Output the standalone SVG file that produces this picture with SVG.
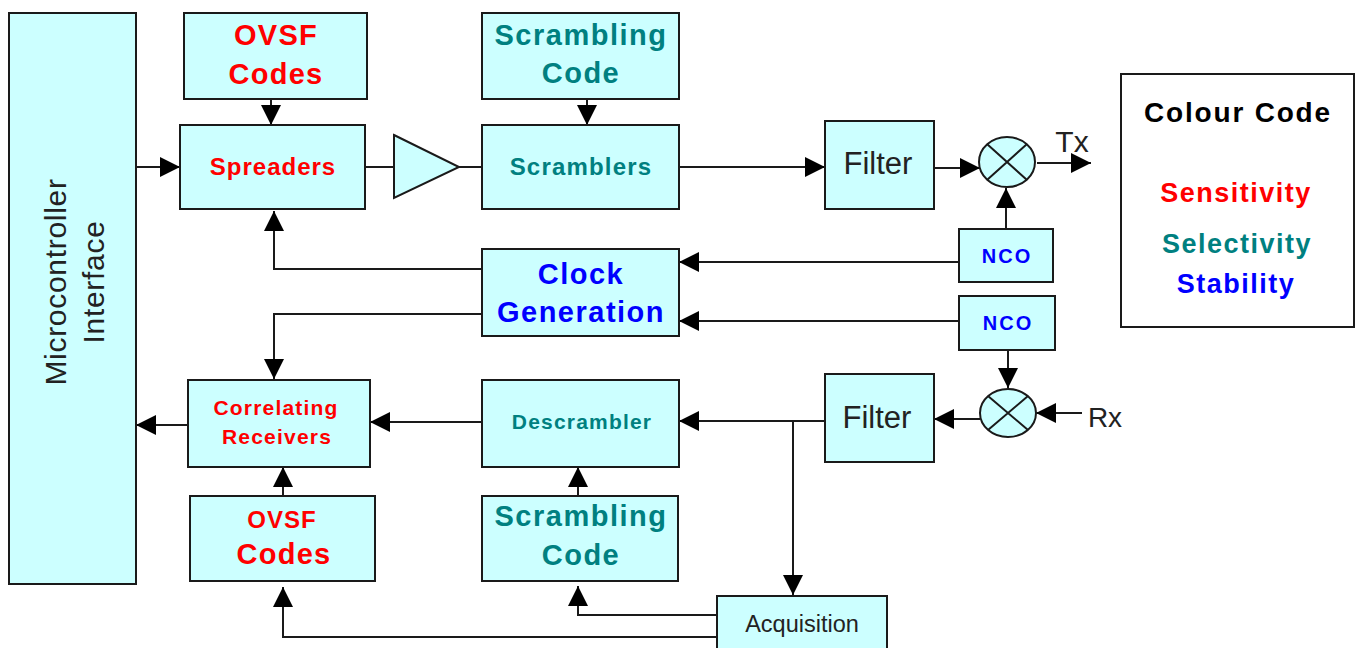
<svg xmlns="http://www.w3.org/2000/svg" width="1359" height="648" viewBox="0 0 1359 648">
  <style>
    .box { fill: #ccffff; stroke: #1a1a1a; stroke-width: 2; }
    .wire { fill: none; stroke: #1a1a1a; stroke-width: 2; }
    .t { font-family: "Liberation Sans", Arial, sans-serif; text-anchor: middle; }
    .b { font-weight: bold; }
    .red { fill: #ff0000; }
    .teal { fill: #008080; }
    .blue { fill: #0000ff; }
    .dark { fill: #222222; }
  </style>
  <defs>
    <marker id="arrow" markerUnits="userSpaceOnUse" markerWidth="20" markerHeight="20" refX="20" refY="10" orient="auto">
      <path d="M0,0 L20,10 L0,20 z" fill="#000"/>
    </marker>
  </defs>

  <rect width="1359" height="648" fill="#ffffff"/>

  <!-- connectors -->
  <g id="connectors" class="wire">
    <line x1="136" y1="167" x2="180" y2="167" marker-end="url(#arrow)"/>
    <line x1="271" y1="99" x2="271" y2="125" marker-end="url(#arrow)"/>
    <line x1="365" y1="167" x2="394" y2="167"/>
    <line x1="459" y1="167" x2="482" y2="167"/>
    <line x1="587" y1="99" x2="587" y2="125" marker-end="url(#arrow)"/>
    <line x1="679" y1="167" x2="825" y2="167" marker-end="url(#arrow)"/>
    <line x1="934" y1="168" x2="980" y2="168" marker-end="url(#arrow)"/>
    <line x1="1037" y1="163" x2="1091" y2="163" marker-end="url(#arrow)"/>
    <line x1="1006" y1="229" x2="1006" y2="188" marker-end="url(#arrow)"/>
    <line x1="959" y1="262" x2="679" y2="262" marker-end="url(#arrow)"/>
    <line x1="959" y1="321" x2="679" y2="321" marker-end="url(#arrow)"/>
    <polyline points="482,269 274,269 274,211" marker-end="url(#arrow)"/>
    <polyline points="482,314 274,314 274,379" marker-end="url(#arrow)"/>
    <line x1="1008" y1="350" x2="1008" y2="388" marker-end="url(#arrow)"/>
    <line x1="1082" y1="413" x2="1036" y2="413" marker-end="url(#arrow)"/>
    <line x1="980" y1="419" x2="934" y2="419" marker-end="url(#arrow)"/>
    <line x1="825" y1="421" x2="679" y2="421" marker-end="url(#arrow)"/>
    <line x1="793" y1="421" x2="793" y2="595" marker-end="url(#arrow)"/>
    <line x1="482" y1="422" x2="370" y2="422" marker-end="url(#arrow)"/>
    <line x1="188" y1="425" x2="136" y2="425" marker-end="url(#arrow)"/>
    <line x1="283" y1="496" x2="283" y2="467" marker-end="url(#arrow)"/>
    <line x1="578" y1="496" x2="578" y2="467" marker-end="url(#arrow)"/>
    <polyline points="716,615 578,615 578,586" marker-end="url(#arrow)"/>
    <polyline points="716,637 283,637 283,587" marker-end="url(#arrow)"/>
  </g>

  <!-- microcontroller interface -->
  <g id="micro">
    <rect class="box" x="9" y="13" width="127" height="571"/>
    <text class="t dark" font-size="30" letter-spacing="0.7" transform="translate(66,282) rotate(-90)">Microcontroller</text>
    <text class="t dark" font-size="30" letter-spacing="0.7" transform="translate(104,282) rotate(-90)">Interface</text>
  </g>

  <!-- transmit path -->
  <g id="ovsf-tx">
    <rect class="box" x="184" y="13" width="183" height="86"/>
    <text class="t b red" x="276" y="45" font-size="29" letter-spacing="1.3">OVSF</text>
    <text class="t b red" x="276" y="84" font-size="29" letter-spacing="1.3">Codes</text>
  </g>
  <g id="spreaders">
    <rect class="box" x="180" y="125" width="185" height="84"/>
    <text class="t b red" x="273" y="175" font-size="24" letter-spacing="1">Spreaders</text>
  </g>
  <g id="amplifier">
    <polygon class="box" points="394,135 459,167 394,198" stroke-width="1.5"/>
  </g>
  <g id="scrambling-tx">
    <rect class="box" x="482" y="13" width="197" height="86"/>
    <text class="t b teal" x="581" y="45" font-size="29" letter-spacing="1.5">Scrambling</text>
    <text class="t b teal" x="581" y="83" font-size="29" letter-spacing="1.5">Code</text>
  </g>
  <g id="scramblers">
    <rect class="box" x="482" y="125" width="197" height="84"/>
    <text class="t b teal" x="581" y="175" font-size="24" letter-spacing="1.2">Scramblers</text>
  </g>
  <g id="filter-tx">
    <rect class="box" x="825" y="121" width="109" height="88"/>
    <text class="t dark" x="878" y="174" font-size="31">Filter</text>
  </g>
  <g id="mixer-tx">
    <ellipse class="box" cx="1007" cy="162" rx="28" ry="25" stroke-width="1.5"/>
    <path class="wire" stroke-width="1.5" d="M987,144 L1027,180 M1027,144 L987,180"/>
  </g>
  <g id="tx-label">
    <text class="t dark" x="1072" y="152" font-size="30">Tx</text>
  </g>
  <g id="nco-tx">
    <rect class="box" x="959" y="229" width="94" height="53"/>
    <text class="t b blue" x="1007" y="263" font-size="20" letter-spacing="2">NCO</text>
  </g>

  <!-- clock -->
  <g id="clock">
    <rect class="box" x="482" y="249" width="197" height="87"/>
    <text class="t b blue" x="581" y="284" font-size="29" letter-spacing="1.5">Clock</text>
    <text class="t b blue" x="581" y="322" font-size="29" letter-spacing="1.5">Generation</text>
  </g>
  <g id="nco-rx">
    <rect class="box" x="959" y="296" width="96" height="54"/>
    <text class="t b blue" x="1008" y="330" font-size="20" letter-spacing="2">NCO</text>
  </g>

  <!-- receive path -->
  <g id="mixer-rx">
    <ellipse class="box" cx="1008" cy="413" rx="28" ry="24" stroke-width="1.5"/>
    <path class="wire" stroke-width="1.5" d="M988,396 L1028,430 M1028,396 L988,430"/>
  </g>
  <g id="rx-label">
    <text class="t dark" x="1105" y="427" font-size="28">Rx</text>
  </g>
  <g id="filter-rx">
    <rect class="box" x="825" y="374" width="109" height="88"/>
    <text class="t dark" x="877" y="428" font-size="31">Filter</text>
  </g>
  <g id="descrambler">
    <rect class="box" x="482" y="380" width="197" height="87"/>
    <text class="t b teal" x="582" y="429" font-size="21" letter-spacing="1.2">Descrambler</text>
  </g>
  <g id="correlating">
    <rect class="box" x="188" y="380" width="182" height="87"/>
    <text class="t b red" x="276" y="415" font-size="21" letter-spacing="1.2">Correlating</text>
    <text class="t b red" x="277" y="444" font-size="21" letter-spacing="1.2">Receivers</text>
  </g>
  <g id="ovsf-rx">
    <rect class="box" x="190" y="496" width="185" height="85"/>
    <text class="t b red" x="282" y="528" font-size="24" letter-spacing="1">OVSF</text>
    <text class="t b red" x="284" y="564" font-size="29" letter-spacing="1.3">Codes</text>
  </g>
  <g id="scrambling-rx">
    <rect class="box" x="482" y="496" width="196" height="85"/>
    <text class="t b teal" x="581" y="526" font-size="29" letter-spacing="1.5">Scrambling</text>
    <text class="t b teal" x="581" y="565" font-size="29" letter-spacing="1.5">Code</text>
  </g>
  <g id="acquisition">
    <rect class="box" x="717" y="596" width="170" height="60"/>
    <text class="t dark" x="802" y="632" font-size="23.5">Acquisition</text>
  </g>

  <!-- colour key -->
  <g id="legend">
    <rect x="1121" y="74" width="233" height="253" fill="#ffffff" stroke="#1a1a1a" stroke-width="2"/>
    <text class="t b" x="1238" y="122" font-size="28" letter-spacing="1.8" fill="#000">Colour Code</text>
    <text class="t b red" x="1236" y="202" font-size="27" letter-spacing="1.5">Sensitivity</text>
    <text class="t b teal" x="1237" y="253" font-size="27" letter-spacing="1.5">Selectivity</text>
    <text class="t b blue" x="1236" y="293" font-size="27" letter-spacing="1.5">Stability</text>
  </g>
</svg>
